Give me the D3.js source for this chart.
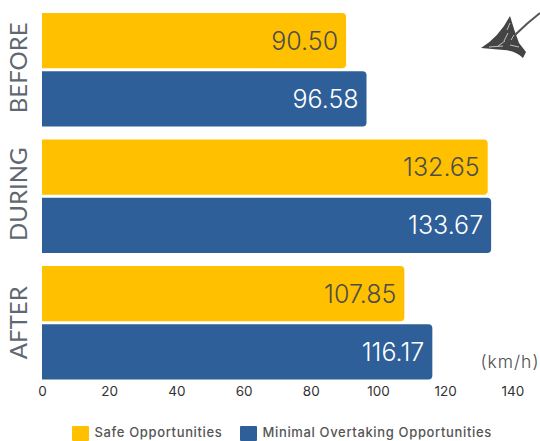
<!DOCTYPE html>
<html>
<head>
<meta charset="utf-8">
<script src="https://cdn.jsdelivr.net/npm/d3@7/dist/d3.min.js"></script>
<style>
html,body{margin:0;padding:0;background:#fff;}
svg{display:block;}
</style>
</head>
<body>
<svg id="chart" width="540" height="441"></svg>
<script>
const periods = ["BEFORE", "DURING", "AFTER"];
const seriesNames = ["Safe Opportunities", "Minimal Overtaking Opportunities"];
const safeValues = [90.50, 132.65, 107.85];
const minimalValues = [96.58, 133.67, 116.17];
const tickValues = [0, 20, 40, 60, 80, 100, 120, 140];
const seriesColors = ["#FFC000", "#2E5F99"];
const labelColors = ["#4d4d4d", "#ffffff"];
const unitLabel = "(km/h)";

const svg = d3.select("#chart");
const labelFont = "Inter, 'Open Sans', sans-serif";

const x = d3.scaleLinear().domain([0, 140]).range([42, 512.4]);
const yGroup = d3.scaleBand().domain(periods).range([6.5, 386]).paddingInner(0).paddingOuter(0);
const ySeries = d3.scaleBand().domain([0, 1]).range([6.5, yGroup.bandwidth() - 6.5]).paddingInner(0.05);

// Right-rounded bar, square on the axis side
function barPath(x0, x1, y0, h, r) {
  return `M${x0},${y0}H${x1 - r}Q${x1},${y0} ${x1},${y0 + r}V${y0 + h - r}Q${x1},${y0 + h} ${x1 - r},${y0 + h}H${x0}Z`;
}

const allValues = [safeValues, minimalValues];

periods.forEach((p, i) => {
  const g = svg.append("g").attr("transform", `translate(0,${yGroup(p)})`);
  allValues.forEach((vals, s) => {
    const v = vals[i];
    g.append("path")
      .attr("d", barPath(x(0), x(v), ySeries(s), ySeries.bandwidth(), 4))
      .attr("fill", seriesColors[s]);
    g.append("text")
      .attr("x", x(v) - 8)
      .attr("y", ySeries(s) + ySeries.bandwidth() / 2 + 9)
      .attr("text-anchor", "end")
      .attr("font-family", labelFont)
      .attr("font-weight", 300)
      .attr("font-size", 25)
      .attr("fill", labelColors[s])
      .text(v.toFixed(2));
  });
  svg.append("text")
    .attr("transform", `translate(27,${yGroup(p) + yGroup.bandwidth() / 2 + (i === 2 ? 0 : -2)}) rotate(-90)`)
    .attr("text-anchor", "middle")
    .attr("font-family", "Lato, sans-serif")
    .attr("font-weight", 400)
    .attr("font-size", 24)
    .attr("fill", "#5f6770")
    .text(p);
});

// Bottom axis: labels only
const axis = d3.axisBottom(x).tickValues(tickValues).tickSize(0).tickPadding(0);
const axisG = svg.append("g").attr("transform", "translate(0,386)").call(axis);
axisG.select(".domain").remove();
axisG.selectAll("text")
  .attr("font-family", labelFont)
  .attr("font-size", 13.5)
  .attr("font-weight", 400)
  .attr("fill", "#333");

svg.append("text")
  .attr("x", 539.5).attr("y", 368)
  .attr("text-anchor", "end")
  .attr("font-family", labelFont)
  .attr("font-weight", 300)
  .attr("font-size", 17.5)
  .attr("letter-spacing", 1)
  .attr("fill", "#4d4d4d")
  .text(unitLabel);

// Legend
const legendX = [72, 240];
seriesNames.forEach((name, i) => {
  svg.append("rect")
    .attr("x", legendX[i]).attr("y", 426)
    .attr("width", 17).attr("height", 15)
    .attr("rx", 1)
    .attr("fill", seriesColors[i]);
  svg.append("text")
    .attr("x", legendX[i] + 22.5).attr("y", 437)
    .attr("font-family", labelFont)
    .attr("font-size", 13)
    .attr("font-weight", 500)
    .attr("letter-spacing", 0.65)
    .attr("fill", "#555")
    .text(name);
});

// Hand-drawn arrow ornament in the upper right corner
const ornament = svg.append("g");
ornament.append("path")
  .attr("d", "M481,48 Q499,37 510,16 Q514,30 519,43 L526,52 L523,58 Q516,51 504,50 Q492,49 481,48Z")
  .attr("fill", "#444");
ornament.append("path")
  .attr("d", "M515,35 Q527,23 540,13")
  .attr("fill", "none")
  .attr("stroke", "#555")
  .attr("stroke-width", 2);
ornament.append("path")
  .attr("d", "M510,23 L507,30 M508,33 L504,41 M514,35 L511,40 M489,47 L503,46 M510,45 L519,47 M505,41 L498,46")
  .attr("fill", "none")
  .attr("stroke", "#ddd")
  .attr("stroke-width", 0.8);
</script>
</body>
</html>
